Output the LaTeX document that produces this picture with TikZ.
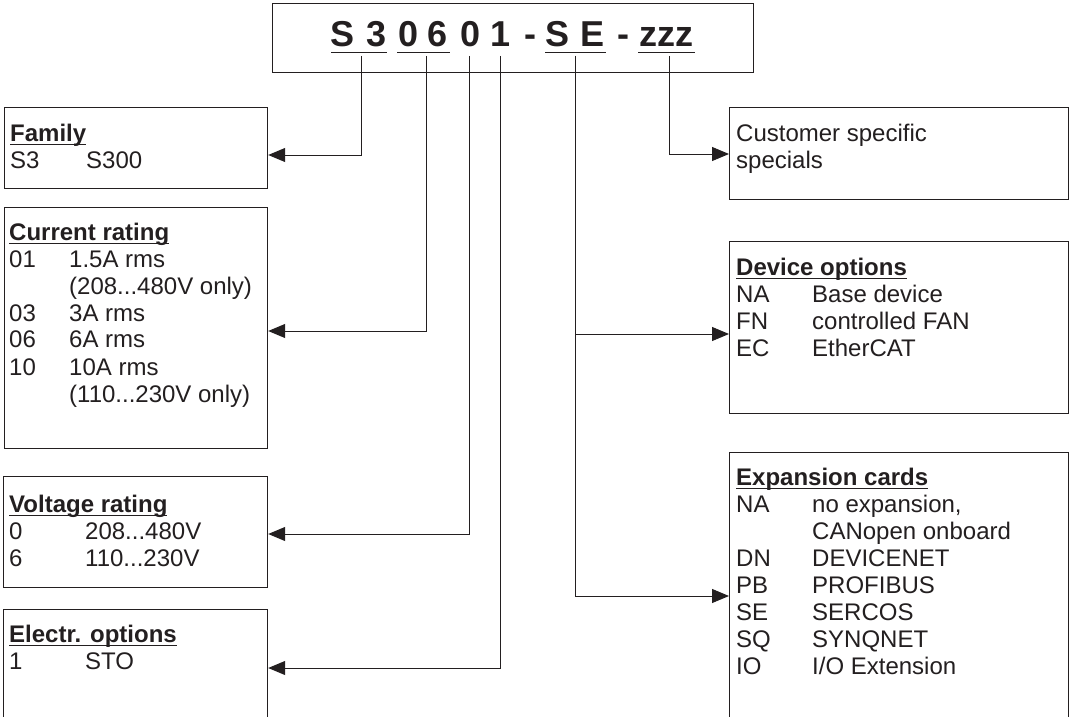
\documentclass[tikz,border=0pt]{standalone}
\usepackage{fontspec}
\setmainfont{Liberation Sans}
\usetikzlibrary{arrows.meta}
\definecolor{ink}{HTML}{231F20}
\newcommand\fs{\fontsize{24}{27}\selectfont}
\newcommand\ulhead[1]{\setbox0\hbox{\bfseries #1}\rlap{\color{ink}\rule[-4pt]{\wd0}{1.3pt}}\box0}
\tikzset{
  box/.style={draw=ink, line width=1.2pt, inner sep=0, anchor=north west, rectangle},
  txt/.style={inner sep=0, anchor=base west, font=\fs, text=ink},
  tch/.style={inner sep=0, anchor=base, font=\fontsize{36}{40}\selectfont\bfseries, text=ink},
  conn/.style={draw=ink, line width=1pt, -{Triangle[length=17pt,width=14pt]}},
  ulr/.style={draw=ink, line width=1.5pt}
}
\begin{document}
\begin{tikzpicture}[x=1pt,y=-1pt]
\useasboundingbox (0,0) rectangle (1069,717);
\clip (0,0) rectangle (1069,717);
\fill[white] (0,0) rectangle (1069,717);

% code box
\node[box, minimum width=481, minimum height=69] (code) at (272,3) {};
\node[tch] (t1) at (342.5,47) {S};
\node[tch] (t2) at (376.7,47) {3};
\node[tch] (t3) at (409,47) {0};
\node[tch] (t4) at (438,47) {6};
\node[tch] (t5) at (471,47) {0};
\node[tch] (t6) at (501,47) {1};
\node[tch] (t7) at (530,47) {-};
\node[tch] (t8) at (557.5,47) {S};
\node[tch] (t9) at (593,47) {E};
\node[tch] (t10) at (623,47) {-};
\node[tch] (t11) at (666.5,47) {zzz};
\draw[ulr] (331,52.5) -- (387,52.5);
\draw[ulr] (397,52.5) -- (450,52.5);
\draw[ulr] (545,52.5) -- (606,52.5);
\draw[ulr] (638,52.5) -- (695,52.5);

\coordinate (c1) at (361,56);
\coordinate (c2) at (426,56);
\coordinate (c3) at (469.3,56);
\coordinate (c4) at (500,56);
\coordinate (c5) at (575,56);
\coordinate (c6) at (669,56);

% left boxes
\node[box, minimum width=263, minimum height=81] (family) at (4,107) {};
\node[txt] (familyt) at (10,141) {\begin{tabular}[t]{@{}p{76pt}@{}l@{}}\multicolumn{2}{@{}l@{}}{\ulhead{Family}}\\ S3 & S300\end{tabular}};

\node[box, minimum width=263, minimum height=241] (current) at (4,207) {};
\node[txt] (currentt) at (9,240) {\begin{tabular}[t]{@{}p{60pt}@{}l@{}}\multicolumn{2}{@{}l@{}}{\ulhead{Current rating}}\\
01 & 1.5A rms\\ & (208...480V only)\\ 03 & 3A rms\\ 06 & 6A rms\\ 10 & 10A rms\\ & (110...230V only)\end{tabular}};

\node[box, minimum width=264, minimum height=111] (voltage) at (3,475.5) {};
\node[txt] (voltaget) at (9,512) {\begin{tabular}[t]{@{}p{76pt}@{}l@{}}\multicolumn{2}{@{}l@{}}{\ulhead{Voltage rating}}\\
0 & 208...480V\\ 6 & 110...230V\end{tabular}};

\node[box, minimum width=264, minimum height=130] (electr) at (3,609) {};
\node[txt] (electrt) at (9,642) {\begin{tabular}[t]{@{}p{76pt}@{}l@{}}\multicolumn{2}{@{}l@{}}{\ulhead{Electr. options}}\\
1 & STO\end{tabular}};

% right boxes
\node[box, minimum width=339, minimum height=92] (customer) at (729,107) {};
\node[txt] (customert) at (736,141) {\begin{tabular}[t]{@{}l@{}}Customer specific\\ specials\end{tabular}};

\node[box, minimum width=339, minimum height=172] (device) at (729,241) {};
\node[txt] (devicet) at (736,275) {\begin{tabular}[t]{@{}p{76pt}@{}l@{}}\multicolumn{2}{@{}l@{}}{\ulhead{Device options}}\\
NA & Base device\\ FN & controlled FAN\\ EC & EtherCAT\end{tabular}};

\node[box, minimum width=339, minimum height=290] (expansion) at (729,452) {};
\node[txt] (expansiont) at (736,485) {\begin{tabular}[t]{@{}p{76pt}@{}l@{}}\multicolumn{2}{@{}l@{}}{\ulhead{Expansion cards}}\\
NA & no expansion,\\ & CANopen onboard\\ DN & DEVICENET\\ PB & PROFIBUS\\ SE & SERCOS\\ SQ & SYNQNET\\ IO & I/O Extension\end{tabular}};

% connectors
\draw[conn] (c1) |- (family.east |- 0,155);
\draw[conn] (c2) |- (current.east |- 0,331);
\draw[conn] (c3) |- (voltage.east |- 0,534);
\draw[conn] (c4) |- (electr.east |- 0,668);
\draw[conn] (c6) |- (customer.west |- 0,154);
\draw[conn] (c5) |- (device.west |- 0,334);
\draw[conn] (c5) |- (expansion.west |- 0,596);
\end{tikzpicture}
\end{document}
